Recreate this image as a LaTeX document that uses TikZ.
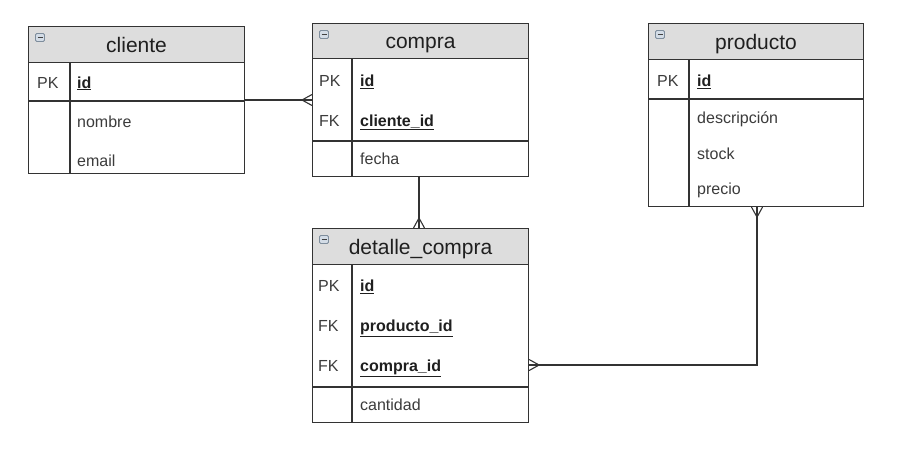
\documentclass[tikz,border=0pt]{standalone}
\usepackage{fontspec}
\setmainfont{Liberation Sans}
\usetikzlibrary{calc}
\definecolor{hdr}{HTML}{DDDDDD}
\definecolor{bord}{HTML}{333333}
\definecolor{txt}{HTML}{3C3C3C}
\definecolor{icf}{HTML}{D3DCE6}
\definecolor{icb}{HTML}{7E8D9C}
\tikzset{
  tbl/.style={draw=bord, line width=1.1pt, anchor=north west, inner sep=0pt, fill=white},
  hdrbox/.style={draw=bord, line width=1.1pt, fill=hdr, anchor=north west, inner sep=0pt,
    text height=15pt, text depth=0pt, font=\fontsize{21}{24}\selectfont, text=black!88},
  keytxt/.style={anchor=base west, inner sep=0pt, font=\fontsize{16}{19}\selectfont, text=txt},
  fld/.style={anchor=base west, inner sep=0pt, font=\fontsize{16}{19}\selectfont, text=txt},
  keyfld/.style={anchor=base west, inner sep=0pt, font=\fontsize{16}{19}\selectfont\bfseries, text=black!88},
  sepline/.style={draw=bord, line width=1.1pt},
  conn/.style={draw=bord, line width=1.1pt},
  icon/.style={draw=icb, fill=icf, line width=0.8pt, rounded corners=1.2pt},
  iconminus/.style={draw=black!75, line width=1.3pt},
}
\newcommand{\hdricon}[2]{%
  \draw[icon] (#1+7.5,#2+7.5) rectangle (#1+16.5,#2+15.5);
  \draw[iconminus] (#1+9.5,#2+11.5) -- (#1+14.5,#2+11.5);
}
\begin{document}
\begin{tikzpicture}[x=1pt,y=-1pt]
\useasboundingbox (0,0) rectangle (904,461);
\fill[white] (0,0) rectangle (904,461);

% ---------------- cliente ----------------
\node[tbl, minimum width=216pt, minimum height=147pt] (cli) at (28,26) {};
\node[hdrbox, minimum width=216pt, minimum height=36pt] (cli-h) at (28,26) {cliente};
\hdricon{28}{26}
\draw[sepline] (28,101) -- (244,101);
\draw[sepline] (70,62) -- (70,173);
\node[keytxt] (cli-k1) at (37,88) {PK};
\node[keyfld] (cli-f1) at (77,88) {\underline{id}};
\node[fld] (cli-f2) at (77,127) {nombre};
\node[fld] (cli-f3) at (77,166) {email};

% ---------------- compra ----------------
\node[tbl, minimum width=216pt, minimum height=153pt] (cmp) at (312,23) {};
\node[hdrbox, minimum width=216pt, minimum height=35pt] (cmp-h) at (312,23) {compra};
\hdricon{312}{23}
\draw[sepline] (312,141) -- (528,141);
\draw[sepline] (352,58) -- (352,176);
\node[keytxt] (cmp-k1) at (319,86.5) {PK};
\node[keyfld] (cmp-f1) at (360,86.5) {\underline{id}};
\node[keytxt] (cmp-k2) at (319,126) {FK};
\node[keyfld] (cmp-f2) at (360,126) {\underline{cliente\_id}};
\node[fld] (cmp-f3) at (360,164) {fecha};

% ---------------- producto ----------------
\node[tbl, minimum width=215pt, minimum height=183pt] (prd) at (648,23) {};
\node[hdrbox, minimum width=215pt, minimum height=36pt] (prd-h) at (648,23) {producto};
\hdricon{648}{23}
\draw[sepline] (648,99) -- (863,99);
\draw[sepline] (689,59) -- (689,206);
\node[keytxt] (prd-k1) at (657,86.5) {PK};
\node[keyfld] (prd-f1) at (697,86.5) {\underline{id}};
\node[fld] (prd-f2) at (697,123) {descripción};
\node[fld] (prd-f3) at (697,159) {stock};
\node[fld] (prd-f4) at (697,194) {precio};

% ---------------- detalle_compra ----------------
\node[tbl, minimum width=216pt, minimum height=194pt] (det) at (312,228) {};
\node[hdrbox, minimum width=216pt, minimum height=36pt] (det-h) at (312,228) {detalle\_compra};
\hdricon{312}{228}
\draw[sepline] (312,387) -- (528,387);
\draw[sepline] (352,264) -- (352,422);
\node[keytxt] (det-k1) at (318,291.5) {PK};
\node[keyfld] (det-f1) at (360,291.5) {\underline{id}};
\node[keytxt] (det-k2) at (318,331) {FK};
\node[keyfld] (det-f2) at (360,331) {\underline{producto\_id}};
\node[keytxt] (det-k3) at (318,371.5) {FK};
\node[keyfld] (det-f3) at (360,371.5) {\underline{compra\_id}};
\node[fld] (det-f4) at (360,410) {cantidad};

% ---------------- connectors ----------------
\coordinate (r1) at (0,100);
\coordinate (r2) at (419,0);
\coordinate (r3) at (757,365);

% cliente -- compra
\draw[conn] (cli.east |- r1) -- (cmp.west |- r1);
\draw[conn] ($(cmp.west |- r1)+(0,-5.5)$) -- ($(cmp.west |- r1)+(-10,0)$) -- ($(cmp.west |- r1)+(0,5.5)$);

% compra -- detalle_compra
\draw[conn] (cmp.south -| r2) -- (det.north -| r2);
\draw[conn] ($(det.north -| r2)+(-5.5,0)$) -- ($(det.north -| r2)+(0,-10)$) -- ($(det.north -| r2)+(5.5,0)$);

% producto -- detalle_compra
\draw[conn] (prd.south -| r3) -- (r3) -- (det.east |- r3);
\draw[conn] ($(prd.south -| r3)+(-5.5,0)$) -- ($(prd.south -| r3)+(0,10)$) -- ($(prd.south -| r3)+(5.5,0)$);
\draw[conn] ($(det.east |- r3)+(0,-5.5)$) -- ($(det.east |- r3)+(10,0)$) -- ($(det.east |- r3)+(0,5.5)$);

\end{tikzpicture}
\end{document}
